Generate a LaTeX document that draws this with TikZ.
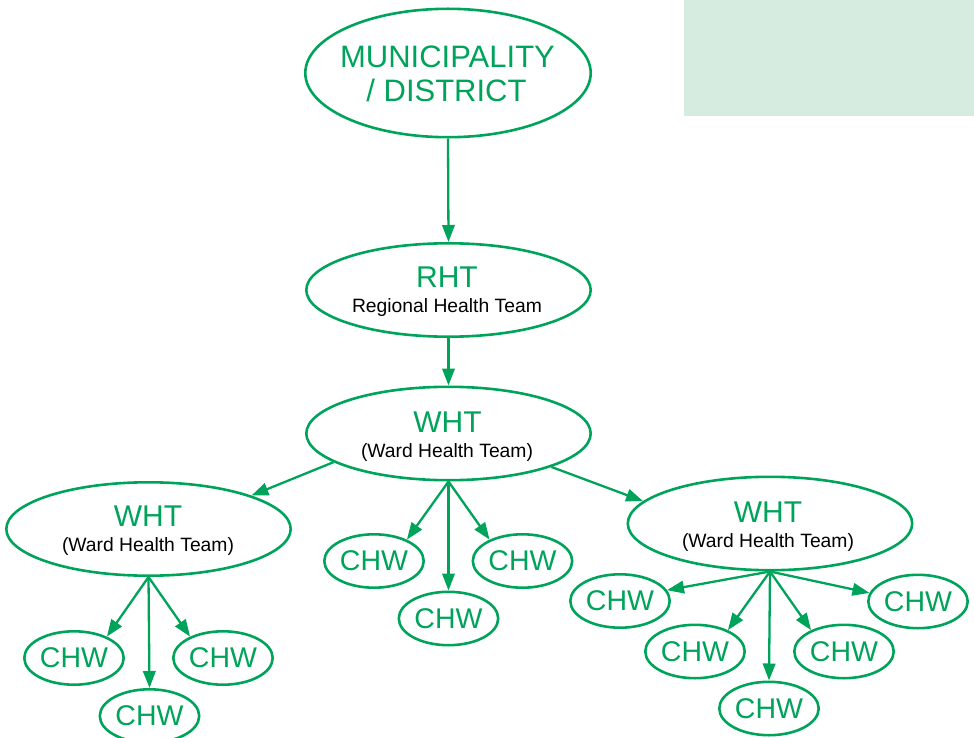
\documentclass[tikz,border=0pt]{standalone}
\usepackage{fontspec}
\setmainfont{Liberation Sans}
\usepackage{xcolor}
\usetikzlibrary{shapes.geometric,arrows.meta}
\definecolor{teamgreen}{RGB}{0,163,90}
\definecolor{mintbox}{RGB}{214,236,224}

\begin{document}
\begin{tikzpicture}[x=1pt,y=-1pt]
        \tikzset{
            ellbox/.style={draw=teamgreen, line width=2.6pt, ellipse, inner sep=0pt},
            bigell/.style={ellbox, minimum width=284.4pt, minimum height=93.4pt},
            chwell/.style={ellbox, minimum width=99.4pt, minimum height=53.4pt, text=teamgreen, font=\fontsize{28.5}{30}\selectfont},
            bigtext/.style={text=teamgreen, font=\fontsize{30}{34}\selectfont, inner sep=0pt, anchor=base},
            subtext/.style={text=black, font=\fontsize{19.3}{22}\selectfont, inner sep=0pt, anchor=base},
            linkarr/.style={draw=teamgreen, line width=2.3pt, -{Stealth[length=17pt,width=12.5pt,inset=0pt]}}
        }
        \useasboundingbox (0,0) rectangle (974,738);
        \fill [mintbox] (684,0) rectangle (974,116);

        %top levels
        \node [ellbox, minimum width=285.4pt, minimum height=128.4pt] (muni) at (448,73) {};
            \node [bigtext, font=\fontsize{31}{34}\selectfont] (munia) at (447.5,68) {MUNICIPALITY};
            \node [bigtext, font=\fontsize{31}{34}\selectfont] (munib) at (446.5,102) {/ DISTRICT};
        \node [bigell] (rht) at (448.5,290) {};
            \node [bigtext] (rhta) at (447,287) {RHT};
            \node [subtext] (rhtb) at (447,312) {Regional Health Team};
        \node [bigell] (wht) at (448.5,433.5) {};
            \node [bigtext] (whta) at (447.5,432) {WHT};
            \node [subtext] (whtb) at (447,457) {(Ward Health Team)};
        \node [bigell] (whtl) at (148.5,529) {};
            \node [bigtext] (whtla) at (148,526) {WHT};
            \node [subtext] (whtlb) at (148,551) {(Ward Health Team)};
        \node [bigell] (whtr) at (770,523.5) {};
            \node [bigtext] (whtra) at (768,522) {WHT};
            \node [subtext] (whtrb) at (768,547) {(Ward Health Team)};

        \draw [linkarr] (muni.south) -- (rht.north);
        \draw [linkarr] (rht.south) -- (wht.north);
        \draw [linkarr] (wht.194) -- (whtl.18);
        \draw [linkarr] (wht.-18) -- (whtr.170);

        %middle CHWs
        \node [chwell] (chwm1) at (374,561) {CHW};
        \node [chwell] (chwm2) at (522.5,561) {CHW};
        \node [chwell] (chwm3) at (448.5,618.5) {CHW};
        \draw [linkarr] (wht.south) -- (chwm1.33);
        \draw [linkarr] (wht.south) -- (chwm2.147);
        \draw [linkarr] (wht.south) -- (chwm3.north);

        %left CHWs
        \node [chwell] (chwl1) at (74,658) {CHW};
        \node [chwell] (chwl2) at (223,658) {CHW};
        \node [chwell] (chwl3) at (149.5,716) {CHW};
        \draw [linkarr] (whtl.south) -- (chwl1.33);
        \draw [linkarr] (whtl.south) -- (chwl2.147);
        \draw [linkarr] (whtl.south) -- (chwl3.north);

        %right CHWs
        \node [chwell] (chwr1) at (620,601) {CHW};
        \node [chwell] (chwr2) at (695,651.5) {CHW};
        \node [chwell] (chwr3) at (769,708.5) {CHW};
        \node [chwell] (chwr4) at (844,651.5) {CHW};
        \node [chwell] (chwr5) at (918,601.5) {CHW};
        \draw [linkarr] (whtr.south) -- (chwr1.13);
        \draw [linkarr] (whtr.south) -- (chwr2.33);
        \draw [linkarr] (whtr.south) -- (chwr3.north);
        \draw [linkarr] (whtr.south) -- (chwr4.147);
        \draw [linkarr] (whtr.south) -- (chwr5.170);
\end{tikzpicture}
\end{document}
